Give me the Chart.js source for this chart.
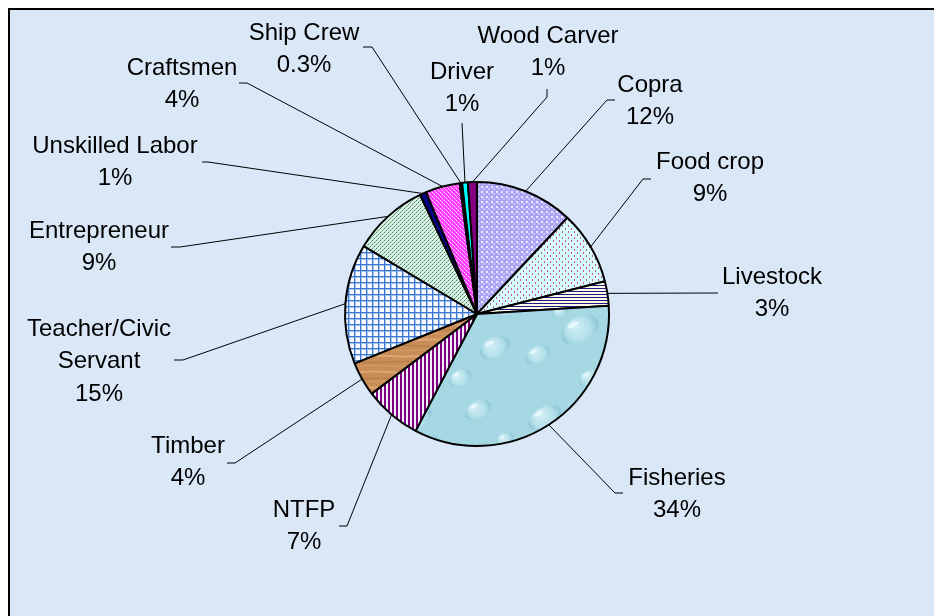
<!DOCTYPE html>
<html>
<head>
<meta charset="utf-8">
<title>Livelihood pie</title>
<script src="https://cdn.jsdelivr.net/npm/chart.js@4.4.1/dist/chart.umd.min.js"></script>
<style>
  html, body { margin: 0; padding: 0; background: #ffffff; }
  #chart { display: block; }
</style>
</head>
<body>
<canvas id="chart" width="934" height="616"></canvas>
<script>
// Data (clockwise from 12 o'clock)
const categories = [
    'Copra', 'Food crop', 'Livestock', 'Fisheries', 'NTFP', 'Timber',
    'Teacher/Civic\nServant', 'Entrepreneur', 'Unskilled Labor', 'Craftsmen',
    'Ship Crew', 'Driver', 'Wood Carver'
];
const values = [12, 9, 3, 33.7, 7, 4.2, 14.7, 9.3, 0.8, 4.2, 0.3, 0.7, 1.1];

// Label placement: text centre (first line) and where the leader line leaves the text
const labelLayout = [
    { x: 650, y: 83,  from: [615, 100], to: [607, 100] },
    { x: 710, y: 160, from: [651, 179], to: [643, 179] },
    { x: 772, y: 275, from: [718, 293], to: [718, 293] },
    { x: 677, y: 476, from: [623, 493], to: [615, 493] },
    { x: 304, y: 508, from: [339, 526], to: [347, 526] },
    { x: 188, y: 444, from: [227, 463], to: [235, 463] },
    { x: 99,  y: 327, from: [174, 360], to: [183, 360] },
    { x: 99,  y: 229, from: [171, 247], to: [180, 247] },
    { x: 115, y: 144, from: [202, 162], to: [208, 162] },
    { x: 182, y: 66,  from: [239, 83],  to: [247, 83] },
    { x: 304, y: 31,  from: [363, 47],  to: [372, 47] },
    { x: 462, y: 70,  from: [462, 123], to: [462, 123] },
    { x: 548, y: 34,  from: [547, 89],  to: [547, 97] }
];

function makePattern(w, h, draw) {
    const c = document.createElement('canvas');
    c.width = w;
    c.height = h;
    const g = c.getContext('2d');
    draw(g, w, h);
    return g.createPattern(c, 'repeat');
}

function buildFills() {
    const copra = makePattern(5, 5, (g) => {
        g.fillStyle = '#aba3f3'; g.fillRect(0, 0, 5, 5);
        g.fillStyle = '#ebe9ff'; g.fillRect(1, 1, 2, 2);
        g.fillStyle = '#c8c3fa'; g.fillRect(3, 3, 2, 2);
    });
    const foodCrop = makePattern(6, 6, (g) => {
        g.fillStyle = '#d6fcfc'; g.fillRect(0, 0, 6, 6);
        g.fillStyle = '#c0588e'; g.fillRect(1, 0, 1, 2); g.fillRect(4, 3, 1, 2);
    });
    const livestock = makePattern(1, 3, (g) => {
        g.fillStyle = '#fdfbe8'; g.fillRect(0, 0, 1, 3);
        g.fillStyle = '#1c1c80'; g.fillRect(0, 0, 1, 1);
    });
    // water-drop texture
    const fisheries = makePattern(130, 130, (g) => {
        g.fillStyle = '#a6d8e4'; g.fillRect(0, 0, 130, 130);
        const drops = [[25, 28, 18, 11], [88, 20, 14, 9], [60, 70, 20, 13], [18, 95, 13, 9],
            [105, 88, 16, 11], [70, 118, 12, 8], [115, 50, 9, 7], [40, 52, 8, 6]];
        drops.forEach(([x, y, rx, ry]) => {
            const grad = g.createRadialGradient(x - rx * 0.3, y - ry * 0.3, 1, x, y, rx);
            grad.addColorStop(0, '#d2eef4');
            grad.addColorStop(0.6, '#b3e0ea');
            grad.addColorStop(1, '#8cc5d5');
            g.fillStyle = grad;
            g.beginPath(); g.ellipse(x, y, rx, ry, -0.5, 0, Math.PI * 2); g.fill();
            g.fillStyle = 'rgba(240,252,255,0.7)';
            g.beginPath(); g.ellipse(x - rx * 0.35, y - ry * 0.4, rx * 0.3, ry * 0.18, -0.5, 0, Math.PI * 2); g.fill();
        });
    });
    const ntfp = makePattern(4, 1, (g) => {
        g.fillStyle = '#f2ecff'; g.fillRect(0, 0, 4, 1);
        g.fillStyle = '#7c007c'; g.fillRect(0, 0, 2, 1);
    });
    const timber = makePattern(60, 16, (g) => {
        g.fillStyle = '#c98e58'; g.fillRect(0, 0, 60, 16);
        g.strokeStyle = '#dba875'; g.lineWidth = 2;
        g.beginPath(); g.moveTo(0, 4); g.bezierCurveTo(20, 2, 40, 6, 60, 4); g.stroke();
        g.strokeStyle = '#b57a46'; g.lineWidth = 1;
        g.beginPath(); g.moveTo(0, 10); g.bezierCurveTo(20, 12, 40, 8, 60, 10); g.stroke();
        g.strokeStyle = '#d49e6a';
        g.beginPath(); g.moveTo(0, 14); g.bezierCurveTo(15, 13, 45, 15, 60, 14); g.stroke();
    });
    const teacher = makePattern(6, 6, (g) => {
        g.fillStyle = '#f6f9ff'; g.fillRect(0, 0, 6, 6);
        g.fillStyle = '#3a76d2'; g.fillRect(0, 0, 6, 1); g.fillRect(0, 0, 1, 6);
        g.fillStyle = '#a9c6ee'; g.fillRect(1, 1, 5, 1); g.fillRect(1, 1, 1, 5);
    });
    const entrepreneur = makePattern(4, 4, (g) => {
        g.fillStyle = '#e0f0e6'; g.fillRect(0, 0, 4, 4);
        g.fillStyle = '#2f8f60'; g.fillRect(0, 0, 1, 1); g.fillRect(2, 2, 1, 1);
        g.fillStyle = '#7ab896'; g.fillRect(1, 3, 1, 1); g.fillRect(3, 1, 1, 1);
    });
    const craftsmen = makePattern(4, 4, (g) => {
        g.fillStyle = '#ff3cff'; g.fillRect(0, 0, 4, 4);
        g.fillStyle = '#ffe4ff'; g.fillRect(0, 0, 1, 1); g.fillRect(2, 2, 1, 1);
        g.fillStyle = '#ff9cff'; g.fillRect(1, 1, 1, 1); g.fillRect(3, 3, 1, 1);
    });
    return [copra, foodCrop, livestock, fisheries, ntfp, timber, teacher,
        entrepreneur, '#000080', craftsmen, '#000000', '#00ffff', '#800080'];
}

const frameBackground = {
    id: 'frameBackground',
    beforeDraw(chart) {
        const ctx = chart.ctx;
        ctx.save();
        ctx.fillStyle = '#ffffff';
        ctx.fillRect(0, 0, chart.width, chart.height);
        ctx.fillStyle = '#d9e7f7';
        ctx.fillRect(9, 9, chart.width, chart.height);
        ctx.strokeStyle = '#000000';
        ctx.lineWidth = 2;
        ctx.beginPath();
        ctx.moveTo(9, chart.height + 2);
        ctx.lineTo(9, 9);
        ctx.lineTo(chart.width + 2, 9);
        ctx.stroke();
        ctx.restore();
    }
};

const leaderLabels = {
    id: 'leaderLabels',
    afterDatasetsDraw(chart) {
        const ctx = chart.ctx;
        const meta = chart.getDatasetMeta(0);
        const data = chart.data.datasets[0].data;
        const total = data.reduce((a, b) => a + b, 0);
        ctx.save();
        ctx.strokeStyle = '#000000';
        ctx.lineWidth = 1;
        ctx.fillStyle = '#000000';
        ctx.font = '24px "Liberation Sans", Arial, sans-serif';
        ctx.textAlign = 'center';
        ctx.textBaseline = 'alphabetic';
        meta.data.forEach((arc, i) => {
            const p = arc.getProps(['x', 'y', 'startAngle', 'endAngle', 'outerRadius'], true);
            const mid = (p.startAngle + p.endAngle) / 2;
            const ex = p.x + Math.cos(mid) * p.outerRadius;
            const ey = p.y + Math.sin(mid) * p.outerRadius;
            const lay = labelLayout[i];

            ctx.beginPath();
            ctx.moveTo(lay.from[0], lay.from[1]);
            ctx.lineTo(lay.to[0], lay.to[1]);
            ctx.lineTo(ex, ey);
            ctx.stroke();

            const pct = data[i] / total * 100;
            const pctText = (pct < 0.5 ? pct.toFixed(1) : Math.round(pct)) + '%';
            const lines = chart.data.labels[i].split('\n').concat([pctText]);
            lines.forEach((t, k) => {
                ctx.fillText(t, lay.x, lay.y + 8.6 + k * 32.5);
            });
        });
        ctx.restore();
    }
};

class PieChartController {
    constructor() {
        this.canvas = document.getElementById('chart');
        this.render();
    }

    render() {
        this.chart = new Chart(this.canvas, {
            type: 'pie',
            data: {
                labels: categories,
                datasets: [{
                    data: values,
                    backgroundColor: buildFills(),
                    borderColor: '#000000',
                    borderWidth: 2
                }]
            },
            options: {
                responsive: false,
                devicePixelRatio: 1,
                animation: false,
                layout: { padding: { left: 344, right: 324, top: 181, bottom: 169 } },
                plugins: {
                    legend: { display: false },
                    tooltip: { enabled: false }
                }
            },
            plugins: [frameBackground, leaderLabels]
        });
    }
}

new PieChartController();
</script>
</body>
</html>
